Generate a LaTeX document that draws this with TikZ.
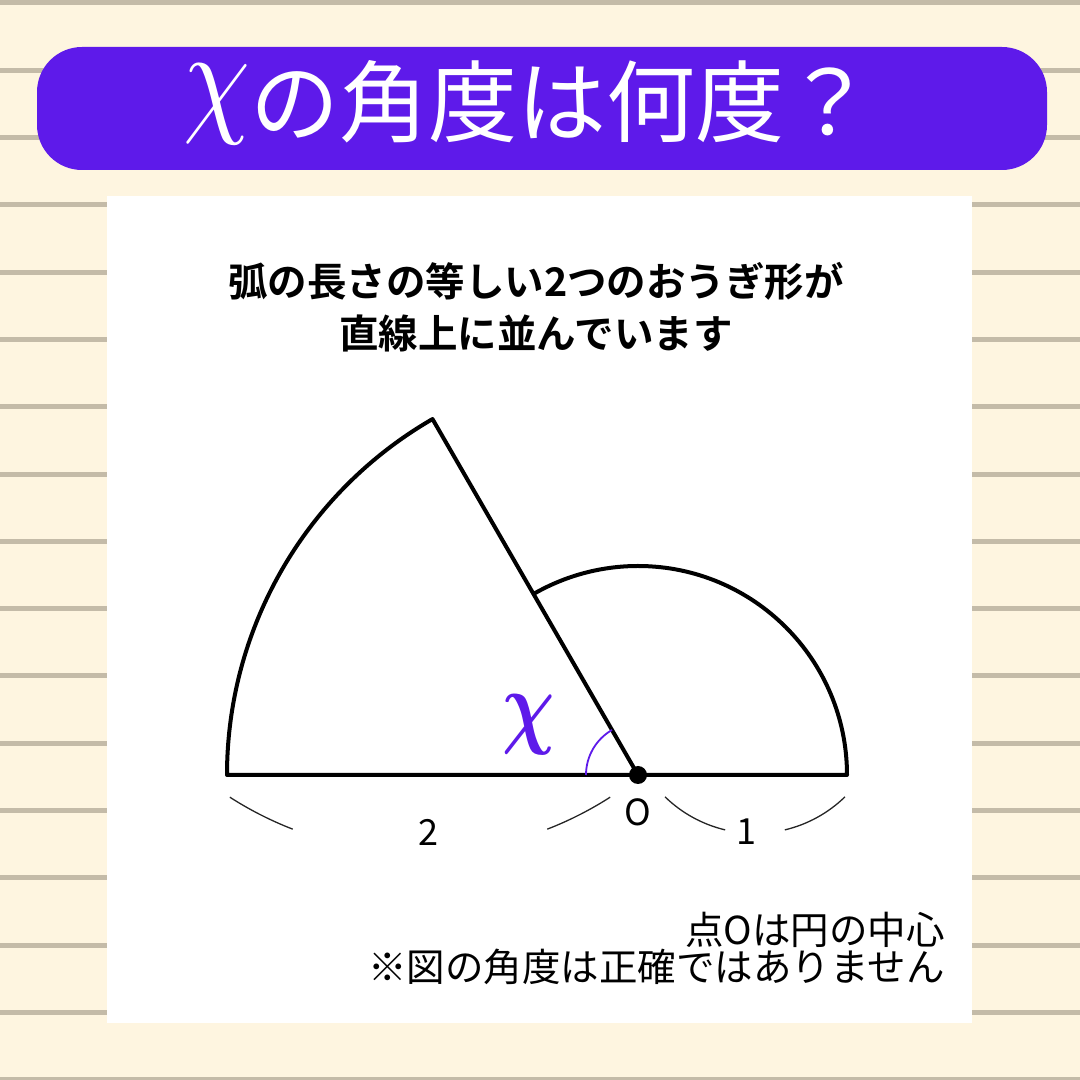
\documentclass[tikz,border=0pt]{standalone}
\usepackage{fontspec}
\usepackage{bm}
\usetikzlibrary{calc}
\newfontfamily\jp{Noto Sans CJK JP}
\newfontfamily\jpb{Noto Sans CJK JP}[BoldFont={* Bold}]
\definecolor{bgcream}{RGB}{254,245,224}
\definecolor{rule}{RGB}{196,187,168}
\definecolor{tpurple}{RGB}{94,26,234}
\tikzset{
  shapeline/.style={line width=4pt, line join=round},
  braceline/.style={line width=1.3pt, black!85},
  lbl/.style={font=\jp\fontsize{36}{36}\selectfont, inner sep=0pt},
  note/.style={anchor=east, inner sep=0pt, font=\jp\fontsize{38.5}{38.5}\selectfont},
}
\newcommand{\bigchi}[2]{{\fontsize{10}{12}\selectfont\scalebox{#1}[#2]{$\chi$}}}
\newcommand{\bigbchi}[2]{{\fontsize{10}{12}\selectfont\scalebox{#1}[#2]{$\bm{\chi}$}}}
\begin{document}
\begin{tikzpicture}[x=1pt,y=1pt]
\useasboundingbox (0,0) rectangle (1080,1080);
\fill[bgcream] (0,0) rectangle (1080,1080);
\foreach \k in {0,...,16}{
  \fill[rule] (0,{1077-67.3*\k-2.5}) rectangle (1080,{1077-67.3*\k+2.5});
}
% title
\fill[tpurple, rounded corners=45pt] (37,910) rectangle (1047,1033);
\node[text=white, inner sep=0pt, anchor=base west, font=\jp\fontsize{89}{89}\selectfont] (title) at (183,944)
  {\raisebox{16pt}{\bigchi{10.7}{12.8}}の角度は何度？};
% panel
\fill[white] (107,57) rectangle (972,884);
\node[align=center, inner sep=0pt, font=\jpb\bfseries\fontsize{39.5}{52}\selectfont] (sub) at (536,773)
  {弧の長さの等しい2つのおうぎ形が\\直線上に並んでいます};
% figure
\coordinate (O) at (638,305);
\coordinate (L) at (227,305);
\coordinate (R) at (847,305);
\coordinate (A) at ($(O)+(120:411)$);
\draw[shapeline] (O) -- (L) arc[start angle=180,end angle=120,radius=411] -- (O) -- (R)
  arc[start angle=0,end angle=120,radius=209];
\draw[tpurple, line width=1.8pt] ($(O)+(180:52)$) arc[start angle=180,end angle=120,radius=52];
\fill (O) circle (9);
\node[text=tpurple, inner sep=0pt] (xl) at (529,355) {\bigbchi{7.3}{9.4}};
% braces
\coordinate (bc1) at (420,579);
\coordinate (bc2) at (755,375.6);
\draw[braceline] ($(bc1)+(237.3:352)$) arc[start angle=237.3,end angle=248.8,radius=352];
\draw[braceline] ($(bc1)+(291.2:352)$) arc[start angle=291.2,end angle=302.7,radius=352];
\draw[braceline] ($(bc2)+(225.8:129)$) arc[start angle=225.8,end angle=256.6,radius=129];
\draw[braceline] ($(bc2)+(283.4:129)$) arc[start angle=283.4,end angle=314.2,radius=129];
\node[lbl] (two) at (428,248) {2};
\node[lbl] (oh) at (638,268) {O};
\node[lbl] (one) at (746,248) {1};
% notes
\node[note] (n1) at (945,150) {点Oは円の中心};
\node[note] (n2) at (945,113) {※図の角度は正確ではありません};
\end{tikzpicture}
\end{document}
